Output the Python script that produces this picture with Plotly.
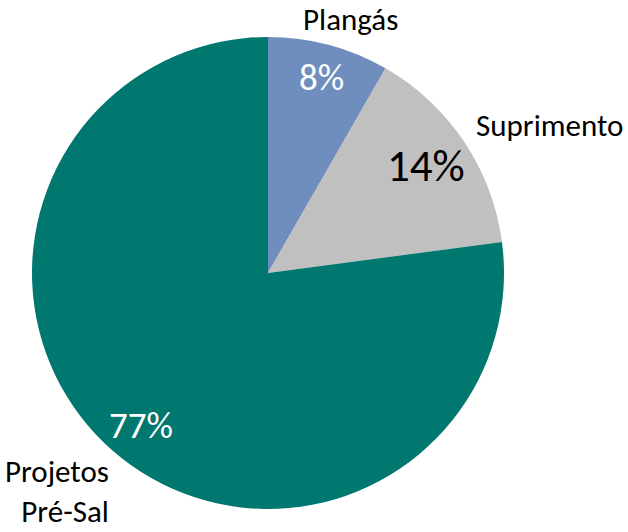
import plotly.graph_objects as go

W, H = 628, 532

# data
categories = ["Plangás", "Suprimento", "Projetos Pré-Sal"]
shares = [8.3, 14.6, 77.1]
pct_labels = ["8%", "14%", "77%"]
colors = ["#6F8EBE", "#C0C0C0", "#00776F"]

FONT = "Carlito, Calibri, Lato, sans-serif"


def px(x, y):
    return x / W, 1 - y / H


x0, y0 = px(32, 509)
x1, y1 = px(504, 37)
fig = go.Figure(go.Pie(
    labels=categories, values=shares, sort=False, direction="clockwise",
    rotation=0, marker=dict(colors=colors, line=dict(width=0)),
    textinfo="none", hoverinfo="label+percent", showlegend=False,
    domain=dict(x=[x0, x1], y=[y0, y1]),
))

# percentages inside the slices
pct_pos = [(321, 77, "white", 37), (426, 165, "black", 45), (141, 425, "white", 37)]
for txt, (x, y, c, s) in zip(pct_labels, pct_pos):
    ax, ay = px(x, y)
    fig.add_annotation(x=ax, y=ay, xref="paper", yref="paper", text=txt, showarrow=False,
                       font=dict(family=FONT, size=s, color=c), xanchor="center", yanchor="middle")

# category names outside
name_pos = [(350, 19, "center", "Plangás"), (549, 125, "center", "Suprimento"),
            (111, 491, "right", "Projetos<br>Pré-Sal")]
for x, y, anc, txt in name_pos:
    ax, ay = px(x, y)
    fig.add_annotation(x=ax, y=ay, xref="paper", yref="paper", text=txt, showarrow=False,
                       align=anc, font=dict(family=FONT, size=31, color="black"),
                       xanchor=anc, yanchor="middle")

fig.update_layout(width=W, height=H, margin=dict(l=0, r=0, t=0, b=0),
                  paper_bgcolor="white", plot_bgcolor="white")

# drop the default page margin so the figure sits at the window's corner
fig.write_html("out.html", config={"displayModeBar": False},
               post_script="document.body.style.margin='0';")
